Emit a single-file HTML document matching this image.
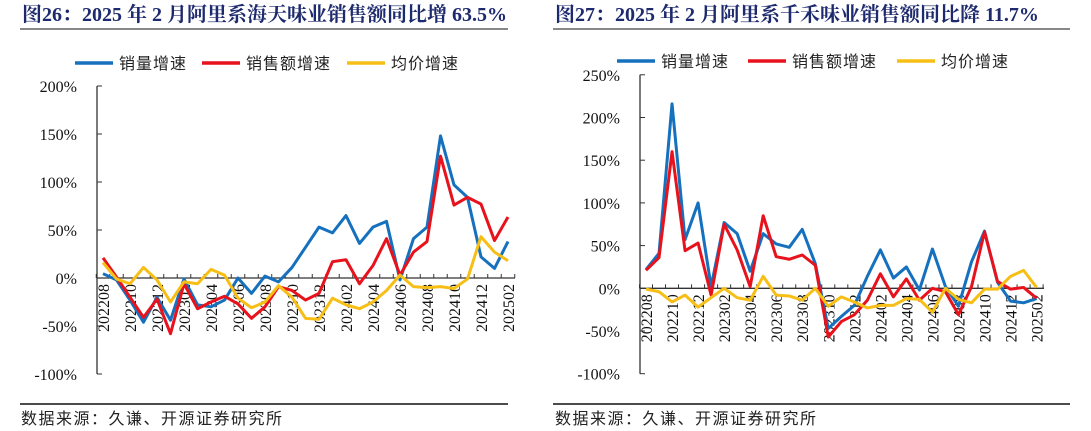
<!DOCTYPE html>
<html><head><meta charset="utf-8">
<style>
body{margin:0;background:#fff;width:1091px;height:431px;overflow:hidden}
svg{display:block}
.ttl{font-family:"Liberation Serif","Noto Serif CJK SC",serif;font-weight:bold;font-size:20px;fill:#1e2a6e}
.lg{font-family:"Liberation Serif","Noto Sans CJK SC",sans-serif;font-size:16px;fill:#222;letter-spacing:1px}
.tk{font-family:"Liberation Serif",serif;font-size:16px;fill:#111}
.src{font-family:"Liberation Serif","Noto Sans CJK SC",sans-serif;font-size:16px;fill:#222;letter-spacing:1.5px}
</style></head><body>
<svg id="root" width="1091" height="431">
<text class="ttl" x="22" y="21">图26：2025 年 2 月阿里系海天味业销售额同比增 63.5%</text>
<line x1="20" y1="29" x2="508" y2="29" stroke="#888" stroke-width="2"/>
<text class="ttl" x="555" y="21">图27：2025 年 2 月阿里系千禾味业销售额同比降 11.7%</text>
<line x1="553" y1="29" x2="1070" y2="29" stroke="#888" stroke-width="2"/>
<line x1="20" y1="404" x2="508" y2="404" stroke="#111" stroke-width="1.5"/>
<line x1="553" y1="404" x2="1070" y2="404" stroke="#111" stroke-width="1.5"/>
<text class="src" x="21" y="424">数据来源：久谦、开源证券研究所</text>
<text class="src" x="555" y="424">数据来源：久谦、开源证券研究所</text>
<g id="left"></g>
<g id="right"></g>
</svg>
<script>
const categories=["202208","202209","202210","202211","202212","202301","202302","202303","202304","202305","202306","202307","202308","202309","202310","202311","202312","202401","202402","202403","202404","202405","202406","202407","202408","202409","202410","202411","202412","202501","202502"];
const seriesNames=["销量增速","销售额增速","均价增速"];
const leftVolume=[4.5,-2,-23,-46,-20,-44,-1,-28,-30,-23,0,-16,2,-4,11,32,53,47,65,36,53,59,-2,41,53,148,97,84,22,10,38];
const leftSales=[21,1,-20,-41,-22,-58,-6,-32,-25,-19,-27,-42,-30,-9,-13,-23,-16,17,19,-6,13,41,3,27,38,127,76,84,77,39,63.5];
const leftPrice=[16,-1,-6,11,-2,-25,-4,-6,9,3,-21,-31,-25,-8,-20,-42,-43,-21,-28,-32,-25,-13,3,-9,-10,-9,-11,-1,43,27,18];
const leftTicks=[200,150,100,50,0,-50,-100];
const rightVolume=[22,41,216,57,100,2,77,64,20,64,52,48,69,29,-47,-33,-20,14,45,12,25,-2,46,2,-21,31,67,7,-15,-17,-12];
const rightSales=[21,36,160,44,53,-8,75,45,2,85,37,34,39,27,-57,-39,-31,-14,17,-10,11,-14,0,-4,-31,2,66,8,-1,1,-11.7];
const rightPrice=[-1,-4,-16,-8,-22,-11,0,-11,-14,14,-8,-9,-14,0,-21,-10,-16,-23,-20,-20,-12,-13,-28,0,-13,-17,-1,-1,14,21,1];
const rightTicks=[250,200,150,100,50,0,-50,-100];
const colors=["#1570be","#e8121c","#f7bf16"];
const NS="http://www.w3.org/2000/svg";
function mk(parent,tag,attrs){const e=document.createElementNS(NS,tag);for(const k in attrs)e.setAttribute(k,attrs[k]);parent.appendChild(e);return e;}
function drawChart(g,cfg,series,ticks){
  const yS=v=>cfg.y0-v*cfg.k;
  const xS=i=>cfg.x0+i*cfg.dx;
  const top=yS(ticks[0]),bot=yS(ticks[ticks.length-1]);
  for(let s=0;s<3;s++){
    const l=mk(g,"line",{x1:cfg.leg[s],y1:cfg.legY,x2:cfg.leg[s]+38,y2:cfg.legY,stroke:colors[s],"stroke-width":3.5});
    
    
    const t=mk(g,"text",{class:"lg",x:cfg.leg[s]+44,y:cfg.legY+6});
    t.textContent=seriesNames[s];
    
    
  }
  const ya=mk(g,"line",{x1:cfg.ax,y1:top,x2:cfg.ax,y2:bot,stroke:"#333","stroke-width":1.3});
  
  
  ticks.forEach(v=>{
    const tl=mk(g,"line",{x1:cfg.ax,y1:yS(v),x2:cfg.ax+5,y2:yS(v),stroke:"#333","stroke-width":1});
    
    
    const t=mk(g,"text",{class:"tk",x:cfg.ax-20,y:yS(v)+6,"text-anchor":"end"});
    t.textContent=v+"%";
    
    
  });
  const xa=mk(g,"line",{x1:cfg.ax,y1:yS(0),x2:cfg.xEnd,y2:yS(0),stroke:"#333","stroke-width":1.3});
  
  
  for(let i=0;i<=categories.length;i++){
    const xx=xS(i)-cfg.dx/2;
    const tm=mk(g,"line",{x1:xx,y1:yS(0)-4,x2:xx,y2:yS(0),stroke:"#333","stroke-width":1});
    
    
  }
  categories.forEach((c,i)=>{
    if(i%2)return;
    const x=xS(i)+6,y=yS(0)+6;
    const t=mk(g,"text",{class:"tk",x:x,y:y,"text-anchor":"end",transform:`rotate(-90 ${x} ${y})`,"font-size":"17.5"});
    t.textContent=c;
    
    
  });
  series.forEach((arr,s)=>{
    const p=mk(g,"polyline",{points:arr.map((v,i)=>xS(i)+","+yS(v)).join(" "),fill:"none",stroke:colors[s],"stroke-width":3,"stroke-linejoin":"round"});
    
    
  });
}
drawChart(document.getElementById("left"),{x0:103,dx:13.5,y0:278,k:0.96,ax:97,xEnd:515,legY:63,leg:[75,202,347]},[leftVolume,leftSales,leftPrice],leftTicks);
drawChart(document.getElementById("right"),{x0:646,dx:13.02,y0:288.3,k:0.854,ax:640,xEnd:1044,legY:61,leg:[617,748,897]},[rightVolume,rightSales,rightPrice],rightTicks);
</script>
</body></html>
